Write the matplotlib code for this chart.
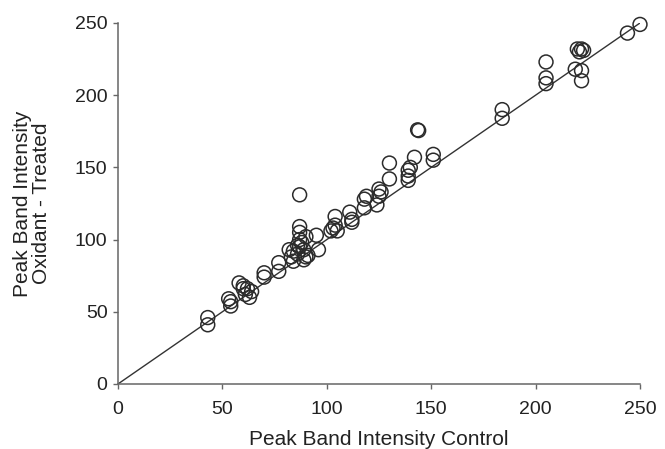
import matplotlib.pyplot as plt

plt.rcParams['font.family'] = ['Liberation Sans', 'DejaVu Sans']

# peak band intensities
control = [43, 43, 53, 54, 54, 58, 60, 61, 62, 64, 63, 60,
           70, 70, 77, 77,
           82, 83, 84, 86, 87, 89, 90, 91, 89, 86, 87, 84, 88, 90,
           96, 87, 87, 87, 95,
           102, 103, 104, 104, 105,
           111, 112, 112,
           118, 118, 119,
           124, 125, 125, 126,
           130, 130,
           139, 139, 139, 140,
           142, 143.5, 144,
           151, 151,
           184, 184,
           205, 205, 205,
           219, 222, 222, 220, 221, 222, 223,
           244, 250]
treated = [46, 41, 59, 57, 54, 70, 66, 62, 66, 64, 60, 68,
           77, 74, 84, 78,
           93, 88, 85, 96, 100, 93, 102, 89, 86, 90, 95, 92, 98, 88,
           93, 131, 109, 105, 103,
           106, 108, 116, 110, 106,
           119, 112, 114,
           128, 122, 130,
           124, 130, 135, 133,
           153, 142,
           148, 141, 144, 150,
           157, 176, 175.5,
           159, 155,
           190, 184,
           223, 212, 208,
           218, 217, 210, 232, 230, 232, 231,
           243, 249]

fig = plt.figure(figsize=(6.65, 4.49), dpi=100)
ax = fig.add_axes([0.1774, 0.1448, 0.785, 0.804])

# identity line
ax.plot([0, 250], [0, 250], color='#333333', lw=1.0, zorder=1)
ax.scatter(control, treated, s=100, facecolors='none', edgecolors='#2b2b2b',
           linewidths=1.1, zorder=2, clip_on=False)

ax.set_xlim(0, 250)
ax.set_ylim(0, 250)
ax.set_xticks([0, 50, 100, 150, 200, 250])
ax.set_yticks([0, 50, 100, 150, 200, 250])

for side in ['top', 'right']:
    ax.spines[side].set_visible(False)
for side in ['left', 'bottom']:
    ax.spines[side].set_color('#666666')
    ax.spines[side].set_linewidth(1.1)

ax.tick_params(length=3.5, width=1.0, color='#666666', labelsize=14,
               labelcolor='#222222', pad=4)
ax.tick_params(axis='x', pad=8.5)

ax.set_xlabel('Peak Band Intensity Control', fontsize=15, color='#222222', labelpad=9)
ax.set_ylabel('Peak Band Intensity\nOxidant - Treated', fontsize=15,
              color='#222222', labelpad=17, linespacing=1.0)

fig.savefig('out.png', dpi=100)
